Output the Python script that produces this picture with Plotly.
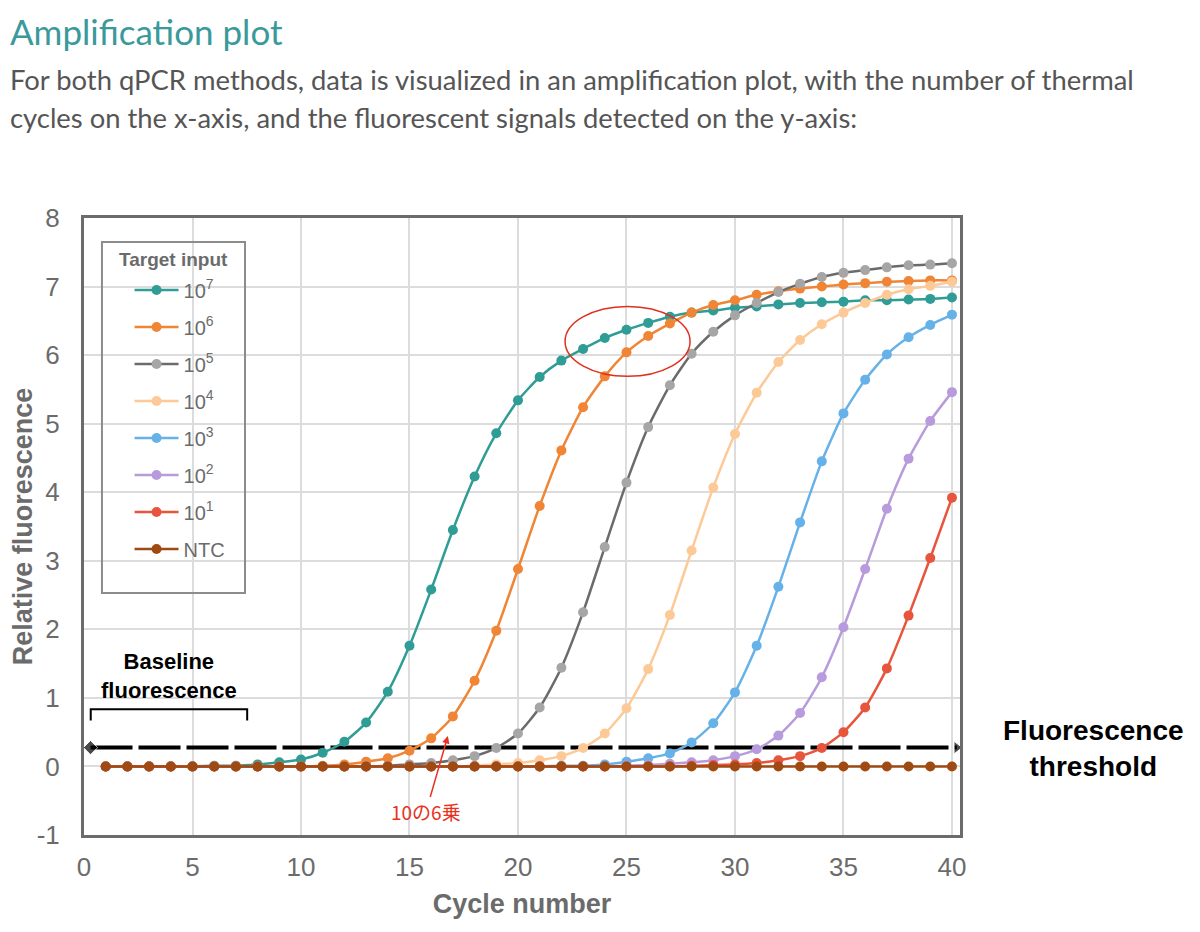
import plotly.graph_objects as go

cycles = list(range(1, 41))

series_names = ["10<sup>7</sup>", "10<sup>6</sup>", "10<sup>5</sup>", "10<sup>4</sup>",
                "10<sup>3</sup>", "10<sup>2</sup>", "10<sup>1</sup>", "NTC"]

rfu_1e7 = [0.0, 0.0, 0.0, 0.0, 0.0, 0.01, 0.01, 0.03, 0.06, 0.10,
           0.20, 0.36, 0.64, 1.09, 1.76, 2.58, 3.45, 4.23, 4.86, 5.34,
           5.68, 5.92, 6.09, 6.25, 6.37, 6.47, 6.56, 6.62, 6.65, 6.69,
           6.71, 6.74, 6.76, 6.77, 6.78, 6.80, 6.80, 6.81, 6.82, 6.84]
rfu_1e6 = [0.0, 0.0, 0.0, 0.0, 0.0, 0.0, 0.0, 0.0, 0.0, 0.0,
           0.01, 0.03, 0.07, 0.12, 0.23, 0.41, 0.73, 1.25, 1.98, 2.88,
           3.80, 4.61, 5.24, 5.69, 6.04, 6.28, 6.46, 6.62, 6.73, 6.80,
           6.88, 6.93, 6.97, 7.00, 7.03, 7.05, 7.07, 7.08, 7.09, 7.09]
rfu_1e5 = [0.0, 0.0, 0.0, 0.0, 0.0, 0.0, 0.0, 0.0, 0.0, 0.0,
           0.0, 0.0, 0.0, 0.01, 0.03, 0.05, 0.09, 0.15, 0.27, 0.48,
           0.86, 1.44, 2.25, 3.20, 4.14, 4.95, 5.56, 6.02, 6.34, 6.58,
           6.76, 6.92, 7.04, 7.14, 7.20, 7.24, 7.28, 7.31, 7.32, 7.34]
rfu_1e4 = [0.0, 0.0, 0.0, 0.0, 0.0, 0.0, 0.0, 0.0, 0.0, 0.0,
           0.0, 0.0, 0.0, 0.0, 0.0, 0.0, 0.0, 0.01, 0.03, 0.05,
           0.09, 0.15, 0.27, 0.48, 0.85, 1.42, 2.21, 3.15, 4.07, 4.85,
           5.45, 5.90, 6.22, 6.45, 6.62, 6.76, 6.88, 6.96, 7.01, 7.07]
rfu_1e3 = [0.0, 0.0, 0.0, 0.0, 0.0, 0.0, 0.0, 0.0, 0.0, 0.0,
           0.0, 0.0, 0.0, 0.0, 0.0, 0.0, 0.0, 0.0, 0.0, 0.0,
           0.0, 0.01, 0.01, 0.03, 0.07, 0.12, 0.19, 0.35, 0.63, 1.08,
           1.76, 2.62, 3.56, 4.45, 5.15, 5.64, 6.01, 6.26, 6.44, 6.59]
rfu_1e2 = [0.0, 0.0, 0.0, 0.0, 0.0, 0.0, 0.0, 0.0, 0.0, 0.0,
           0.0, 0.0, 0.0, 0.0, 0.0, 0.0, 0.0, 0.0, 0.0, 0.0,
           0.0, 0.0, 0.0, 0.0, 0.01, 0.02, 0.04, 0.06, 0.09, 0.15,
           0.25, 0.45, 0.78, 1.30, 2.03, 2.88, 3.76, 4.49, 5.04, 5.46]
rfu_1e1 = [0.0, 0.0, 0.0, 0.0, 0.0, 0.0, 0.0, 0.0, 0.0, 0.0,
           0.0, 0.0, 0.0, 0.0, 0.0, 0.0, 0.0, 0.0, 0.0, 0.0,
           0.0, 0.0, 0.0, 0.0, 0.0, 0.0, 0.0, 0.01, 0.02, 0.03,
           0.05, 0.09, 0.15, 0.27, 0.50, 0.86, 1.43, 2.20, 3.04, 3.92]
rfu_ntc = [0.0, 0.0, 0.0, 0.0, 0.0, 0.0, 0.0, 0.0, 0.0, 0.0,
           0.0, 0.0, 0.0, 0.0, 0.0, 0.0, 0.0, 0.0, 0.0, 0.0,
           0.0, 0.0, 0.0, 0.0, 0.0, 0.0, 0.0, 0.0, 0.0, 0.0,
           0.0, 0.0, 0.0, 0.0, 0.0, 0.0, 0.0, 0.0, 0.0, 0.0]

series_values = [rfu_1e7, rfu_1e6, rfu_1e5, rfu_1e4, rfu_1e3, rfu_1e2, rfu_1e1, rfu_ntc]
line_colors = ["#2f9c95", "#ef8535", "#6b6b6b", "#fdca97", "#66b2e8", "#b89bdc", "#e8553d", "#9e4a12"]
marker_colors = ["#2f9c95", "#ef8535", "#a6a6a6", "#fdca97", "#66b2e8", "#b89bdc", "#e8553d", "#9e4a12"]

threshold_x = [0.3, 40.22]
threshold_y = [0.275, 0.275]
baseline_x = [0.31, 0.31, 7.52, 7.52]
baseline_y = [0.67, 0.835, 0.835, 0.67]

x_ticks = [0, 5, 10, 15, 20, 25, 30, 35, 40]
y_ticks = [-1, 0, 1, 2, 3, 4, 5, 6, 7, 8]
y_tick_text = ["-1", "0", "1", "2", "3", "4", "5", "6", "7", "8"]

AX_GRAY = "#6b6b6b"
FONT = "Liberation Sans, Arial, sans-serif"

fig = go.Figure()

# threshold + baseline bracket go underneath the curves
fig.add_trace(go.Scatter(
    x=threshold_x, y=threshold_y, mode="lines+markers",
    line=dict(color="black", width=4, dash="42px,6px"),
    marker=dict(symbol=["diamond", "triangle-right"], size=[11, 11], color="black"),
    showlegend=False, hoverinfo="skip"))
fig.add_trace(go.Scatter(
    x=baseline_x, y=baseline_y, mode="lines",
    line=dict(color="black", width=2),
    showlegend=False, hoverinfo="skip"))

for name, vals, lc, mc in zip(series_names, series_values, line_colors, marker_colors):
    fig.add_trace(go.Scatter(
        x=cycles, y=vals, name=name, legendgroup=name,
        mode="lines+markers",
        line=dict(color=lc, width=2.5, shape="spline", smoothing=0.6),
        marker=dict(color=mc, size=10)))

# page body keeps an 8px margin, so the figure is 16px smaller than the window
fig.update_layout(
    width=1184, height=916,
    margin=dict(l=76, r=232, t=210, b=89),
    paper_bgcolor="white", plot_bgcolor="white",
    font=dict(family=FONT, color=AX_GRAY),
    showlegend=True,
    legend=dict(
        x=0.052, y=0.915, xanchor="left", yanchor="top",
        bgcolor="rgba(0,0,0,0)", borderwidth=0,
        font=dict(size=20, color=AX_GRAY, family=FONT),
        tracegroupgap=8, traceorder="grouped", itemwidth=44),
    xaxis=dict(
        range=[0, 40.37], tickvals=x_ticks, automargin=False,
        showgrid=True, gridcolor="#dcdcdc", gridwidth=1.5, zeroline=False,
        showline=True, linecolor=AX_GRAY, linewidth=3, mirror=True,
        ticks="", ticklabelstandoff=7,
        tickfont=dict(size=26, color=AX_GRAY),
        title=dict(text="<b>Cycle number</b>", font=dict(size=27, color=AX_GRAY), standoff=13)),
    yaxis=dict(
        range=[-1, 8], tickvals=y_ticks, ticktext=y_tick_text, automargin=False,
        showgrid=True, gridcolor="#dcdcdc", gridwidth=1.5, zeroline=False,
        showline=True, linecolor=AX_GRAY, linewidth=3, mirror=True,
        ticks="", ticklabelstandoff=16,
        tickfont=dict(size=26, color=AX_GRAY),
        title=dict(text="<b>Relative fluorescence</b>", font=dict(size=27, color=AX_GRAY), standoff=4)),
)

# legend frame and title
fig.add_shape(type="rect", xref="paper", yref="paper",
              x0=0.0205, x1=0.1838, y0=0.3922, y1=0.9611,
              line=dict(color="#8c8c8c", width=2), fillcolor="rgba(0,0,0,0)")
fig.add_annotation(xref="paper", yref="paper", x=0.1016, y=0.9335,
                   xanchor="center", yanchor="middle",
                   text="<b>Target input</b>", showarrow=False,
                   font=dict(size=19, color=AX_GRAY, family=FONT))

# highlight ellipse
fig.add_shape(type="circle", xref="x", yref="y",
              x0=22.17, x1=27.93, y0=5.69, y1=6.71,
              line=dict(color="#e0301e", width=1.5))

# chart annotations
fig.add_annotation(x=3.92, y=1.32, xref="x", yref="y",
                   xanchor="center", yanchor="middle",
                   text="<b>Baseline</b><br><b>fluorescence</b>", showarrow=False,
                   font=dict(size=22, color="black", family=FONT))
fig.add_annotation(xref="paper", yref="paper", x=(1093 - 84) / 876, y=(835 - 748) / 617,
                   xanchor="center", yanchor="middle",
                   text="<b>Fluorescence</b><br><b>threshold</b>", showarrow=False,
                   font=dict(size=28, color="black", family=FONT))
fig.add_annotation(x=16.77, y=0.445, xref="x", yref="y", ax=-22, ay=76,
                   text="10の6乗", showarrow=True, arrowhead=2, arrowsize=1,
                   arrowwidth=1.5, arrowcolor="#e8321e",
                   font=dict(size=19, color="#e8321e", family="Noto Sans CJK JP"))

# page header (x = 8 px / y = 8 px is the top-left corner of the figure)
fig.add_annotation(xref="paper", yref="paper", x=(8 - 84) / 876, y=(835 - 8) / 617,
                   xanchor="left", yanchor="top",
                   text="Amplification plot", showarrow=False,
                   font=dict(size=35, color="#3a9a9b", family="Lato"))
fig.add_annotation(xref="paper", yref="paper", x=(8 - 84) / 876, y=(835 - 80) / 617,
                   xanchor="left", yanchor="middle",
                   text="For both qPCR methods, data is visualized in an amplification plot, with the number of thermal",
                   showarrow=False, font=dict(size=27.4, color="#555555", family="Lato"))
fig.add_annotation(xref="paper", yref="paper", x=(8 - 84) / 876, y=(835 - 118) / 617,
                   xanchor="left", yanchor="middle",
                   text="cycles on the x-axis, and the fluorescent signals detected on the y-axis:",
                   showarrow=False, font=dict(size=27.4, color="#555555", family="Lato"))

fig.write_html("out.html")
